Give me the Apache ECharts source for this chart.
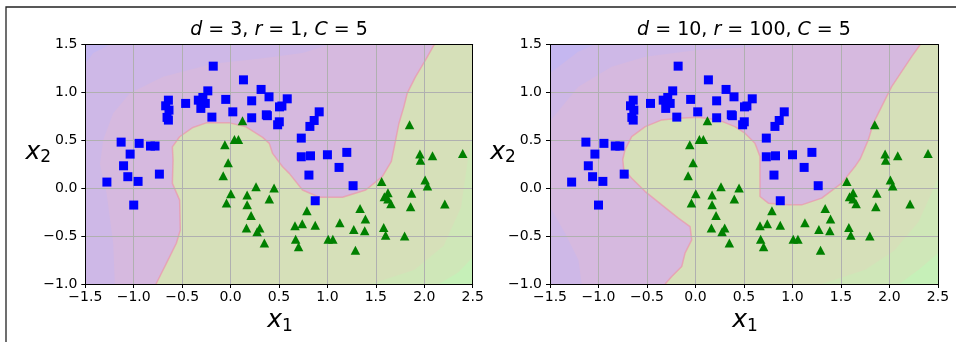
<!DOCTYPE html>
<html>
<head>
<meta charset="utf-8">
<script src="https://cdn.jsdelivr.net/npm/echarts@6/dist/echarts.min.js"></script>
<style>html,body{margin:0;padding:0;background:#fff}#c{width:956px;height:342px}</style>
</head>
<body>
<div id="c"></div>
<script>
// ---- data ----
const xRange = [-1.5, 2.5];
const yRange = [-1.0, 1.5];
const tickStep = 0.5;
const titles = [['d', ' = 3, ', 'r', ' = 1, ', 'C', ' = 5'], ['d', ' = 10, ', 'r', ' = 100, ', 'C', ' = 5']];

const class0 = [[-1.277,0.064],[-1.130,0.481],[-0.944,0.468],[-1.037,0.356],[-1.105,0.234],[-1.061,0.120],[-0.955,0.071],[-1.0,-0.176],[-0.827,0.440],[-0.780,0.440],[-0.735,0.147],
[-0.642,0.919],[-0.670,0.860],[-0.636,0.815],[-0.656,0.739],[-0.642,0.711],[-0.464,0.885],
[-0.333,0.919],[-0.286,0.947],[-0.261,0.885],[-0.307,0.833],[-0.235,1.016],[-0.179,1.274],[-0.193,0.742],[-0.050,0.927],[0.023,0.797],[0.133,1.131],[0.218,0.912],[0.218,0.735],[0.315,1.031],[0.397,0.954],[0.369,0.766],[0.38,0.757],[0.505,0.849],[0.53,0.858],[0.486,0.662],[0.503,0.693],[0.585,0.933],
[0.915,0.797],[0.863,0.707],[0.819,0.645],[0.730,0.523],[0.730,0.328],[0.825,0.338],[1.000,0.349],[1.200,0.374],[1.120,0.217],[0.809,0.137],[1.265,0.026],[0.874,-0.131]];

const class1 = [[0.123,0.704],[0.040,0.509],[0.081,0.509],[-0.059,0.453],[-0.025,0.266],[-0.076,0.130],[0.003,-0.058],[-0.042,-0.155],[0.171,-0.072],[0.171,-0.172],
[0.263,0.015],[0.212,-0.284],[0.164,-0.416],[0.301,-0.416],[0.274,-0.454],[0.349,-0.572],[0.449,0.001],[0.400,-0.113],[0.665,-0.392],[0.740,-0.371],
[0.788,-0.235],[0.874,-0.388],[0.672,-0.534],[0.702,-0.611],[1.008,-0.534],[1.056,-0.534],[1.128,-0.360],[1.272,-0.430],[1.289,-0.649],[1.337,-0.211],
[1.392,-0.322],[1.385,-0.444],[1.560,0.071],[1.588,-0.089],[1.625,-0.047],[1.625,-0.113],[1.656,-0.162],[1.581,-0.409],[1.601,-0.492],[1.797,-0.499],
[1.848,0.662],[1.955,0.356],[1.961,0.293],[2.085,0.339],[1.869,-0.054],[1.859,-0.193],[2.009,0.085],[2.033,0.022],[2.212,-0.166],[2.397,0.363]];

// decision boundaries (from bottom edge to top edge)
const boundaryA = [[-0.77,-1.0],[-0.663,-0.784],[-0.56,-0.575],[-0.519,-0.437],[-0.526,-0.124],[-0.601,0.05],[-0.594,0.294],[-0.601,0.432],[-0.526,0.537],[-0.389,0.634],[-0.251,0.682],[-0.011,0.682],[0.16,0.641],[0.331,0.53],[0.40,0.468],[0.434,0.363],[0.537,0.224],[0.606,0.155],[0.743,-0.019],[0.915,-0.095],[1.155,-0.095],[1.395,-0.019],[1.566,0.12],[1.66,0.28],[1.704,0.502],[1.738,0.676],[1.789,0.849],[1.823,0.989],[1.909,1.162],[2.012,1.336],[2.098,1.49],[2.11,1.5]];
const boundaryB = [[-0.313,-1.0],[-0.245,-0.921],[-0.142,-0.817],[-0.108,-0.677],[-0.039,-0.539],[-0.056,-0.400],[-0.177,-0.313],[-0.348,-0.174],[-0.518,-0.035],[-0.658,0.104],[-0.74,0.20],[-0.75,0.30],[-0.727,0.40],[-0.658,0.539],[-0.518,0.643],[-0.348,0.713],[-0.177,0.730],[0.029,0.741],[0.235,0.713],[0.406,0.643],[0.510,0.574],[0.613,0.47],[0.665,0.33],[0.665,0.191],[0.665,-0.087],[0.751,-0.156],[0.957,-0.174],[1.095,-0.174],[1.301,-0.104],[1.507,0.053],[1.644,0.226],[1.70,0.31],[1.781,0.504],[1.833,0.678],[1.902,0.817],[1.970,0.956],[2.022,1.06],[2.125,1.216],[2.228,1.373],[2.314,1.495],[2.32,1.5]];

// faint decision-function contour bands
const bandsA0 = [[[-1.5,-1.0],[-1.195,-1.0],[-1.212,-0.575],[-1.28,-0.052],[-1.348,0.25],[-1.315,0.502],[-1.212,0.783],[-1.04,0.991],[-0.697,1.164],[-0.183,1.30],[0.331,1.356],[0.743,1.41],[1.02,1.5],[-1.5,1.5]]];
const cornerA0 = [[[-1.5,1.5],[-1.5,1.30],[-1.418,1.41],[-1.246,1.5]]];
const bandsA1 = [[[1.45,-1.0],[1.9,-0.85],[2.2,-0.6],[2.38,-0.2],[2.45,0.3],[2.5,0.6],[2.5,-1.0]]];
const cornerA1 = [[[2.15,-1.0],[2.35,-0.88],[2.5,-0.72],[2.5,-1.0]]];
const bandsB0 = [[[-1.5,-1.0],[-1.173,-1.0],[-1.208,-0.747],[-1.345,-0.469],[-1.483,-0.226],[-1.5,-0.2]],
                 [[-1.5,0.70],[-1.208,1.06],[-0.864,1.268],[-0.518,1.373],[0.0,1.44],[0.5,1.47],[0.9,1.5],[-1.5,1.5]]];
const cornerB0 = [[[-1.5,1.5],[-1.5,1.2],[-1.21,1.425],[-1.036,1.5]]];
const bandsB1 = [[[1.3,-1.0],[1.75,-0.85],[2.05,-0.65],[2.3,-0.35],[2.5,0.1],[2.5,-1.0]]];
const cornerB1 = [[[2.1,-1.0],[2.3,-0.85],[2.5,-0.68],[2.5,-1.0]]];

// ---- styles ----
const FONT = 'DejaVu Sans';
const C_P0 = 'rgb(214,185,223)', C_P1 = 'rgb(206,184,231)', C_P2 = 'rgb(197,183,240)';
const C_G0 = 'rgb(214,224,185)', C_G1 = 'rgb(207,231,184)', C_G2 = 'rgb(198,240,184)';

const grids = [
  {left: 85.3, top: 44.5, width: 387.4, height: 239.5},
  {left: 550, top: 44.5, width: 388, height: 239.5}
];

const fmt = v => (v < 0 ? '\u2212' : '') + Math.abs(v).toFixed(1);

function polySeries(g, pts, color, z) {
  return {
    type: 'custom', xAxisIndex: g, yAxisIndex: g, z: z, silent: true, clip: true,
    data: [pts[0]],
    renderItem: (params, api) => ({
      type: 'polygon',
      shape: {points: pts.map(p => api.coord(p))},
      style: {fill: color}
    })
  };
}

const xAxes = [], yAxes = [], series = [];
grids.forEach((g, i) => {
  xAxes.push({
    type: 'value', gridIndex: i, min: xRange[0], max: xRange[1], interval: tickStep, z: 3,
    axisLine: {show: true, onZero: false, lineStyle: {color: '#000', width: 1}},
    axisTick: {show: true, inside: false, length: 4, lineStyle: {color: '#000'}},
    axisLabel: {formatter: fmt, color: '#000', fontSize: 14, fontFamily: FONT, margin: 6},
    splitLine: {show: true, lineStyle: {color: '#b0b0b0', width: 1}}
  });
  yAxes.push({
    type: 'value', gridIndex: i, min: yRange[0], max: yRange[1], interval: tickStep, z: 3,
    axisLine: {show: true, onZero: false, lineStyle: {color: '#000', width: 1}},
    axisTick: {show: true, inside: false, length: 4, lineStyle: {color: '#000'}},
    axisLabel: {formatter: fmt, color: '#000', fontSize: 14, fontFamily: FONT, margin: 8},
    splitLine: {show: true, lineStyle: {color: '#b0b0b0', width: 1}}
  });
});
grids.forEach((g, i) => {
  xAxes.push({type: 'value', gridIndex: i, position: 'top', min: xRange[0], max: xRange[1], z: 3,
    axisLine: {show: true, onZero: false, lineStyle: {color: '#000', width: 1}},
    axisTick: {show: false}, axisLabel: {show: false}, splitLine: {show: false}});
  yAxes.push({type: 'value', gridIndex: i, position: 'right', min: yRange[0], max: yRange[1], z: 3,
    axisLine: {show: true, onZero: false, lineStyle: {color: '#000', width: 1}},
    axisTick: {show: false}, axisLabel: {show: false}, splitLine: {show: false}});
});

const fullRect = [[xRange[0], yRange[0]], [xRange[1], yRange[0]], [xRange[1], yRange[1]], [xRange[0], yRange[1]]];
const panels = [
  {b: boundaryA, p1: bandsA0, p2: cornerA0, g1: bandsA1, g2: cornerA1},
  {b: boundaryB, p1: bandsB0, p2: cornerB0, g1: bandsB1, g2: cornerB1}
];
panels.forEach((P, i) => {
  series.push(polySeries(i, fullRect, C_P0, 1));
  P.p1.forEach(poly => series.push(polySeries(i, poly, C_P1, 1)));
  P.p2.forEach(poly => series.push(polySeries(i, poly, C_P2, 1)));
  const greenPoly = P.b.concat([[xRange[1], yRange[1]], [xRange[1], yRange[0]]]);
  series.push(polySeries(i, greenPoly, C_G0, 1));
  P.g1.forEach(poly => series.push(polySeries(i, poly, C_G1, 1)));
  P.g2.forEach(poly => series.push(polySeries(i, poly, C_G2, 1)));
  series.push({type: 'line', xAxisIndex: i, yAxisIndex: i, data: P.b, showSymbol: false, silent: true, z: 2,
    lineStyle: {color: 'rgba(236,150,170,0.7)', width: 1.5}});
  series.push({type: 'scatter', xAxisIndex: i, yAxisIndex: i, data: class0, symbol: 'rect', symbolSize: 9, z: 5,
    itemStyle: {color: '#0000ff', opacity: 1}, silent: true});
  series.push({type: 'scatter', xAxisIndex: i, yAxisIndex: i, data: class1, symbol: 'triangle', symbolSize: [9.5, 9], z: 5,
    itemStyle: {color: '#008000', opacity: 1}, silent: true});
});

const rich = {i: {fontStyle: 'italic', fontSize: 19, fontFamily: FONT, fill: '#000'}, n: {fontSize: 19, fontFamily: FONT, fill: '#000'}};
const graphics = [
  {type: 'rect', shape: {x: 6, y: 7, width: 1000, height: 400}, style: {fill: 'none', stroke: '#222', lineWidth: 1.3}, z: 100}
];
grids.forEach((g, i) => {
  const cx = g.left + g.width / 2;
  const parts = titles[i];
  const txt = parts.map((s, k) => (k % 2 === 0 ? '{i|' + s + '}' : '{n|' + s + '}')).join('');
  graphics.push({type: 'text', x: cx, y: 30, style: {text: txt, rich: rich, align: 'center', verticalAlign: 'middle', font: '19px "DejaVu Sans"'}});
  // x1 label
  graphics.push({type: 'text', x: cx + 3, y: 320, style: {text: 'x', align: 'right', verticalAlign: 'middle', font: 'italic 25px "DejaVu Sans"', fill: '#000'}});
  graphics.push({type: 'text', x: cx + 3, y: 327, style: {text: '1', align: 'left', verticalAlign: 'middle', font: '17px "DejaVu Sans"', fill: '#000'}});
  // x2 label
  graphics.push({type: 'text', x: g.left - 45, y: 152, style: {text: 'x', align: 'right', verticalAlign: 'middle', font: 'italic 25px "DejaVu Sans"', fill: '#000'}});
  graphics.push({type: 'text', x: g.left - 45, y: 158, style: {text: '2', align: 'left', verticalAlign: 'middle', font: '17px "DejaVu Sans"', fill: '#000'}});
});

const chart = echarts.init(document.getElementById('c'), null, {renderer: 'canvas'});
chart.setOption({
  backgroundColor: '#fff',
  animation: false,
  grid: grids,
  xAxis: xAxes,
  yAxis: yAxes,
  series: series,
  graphic: graphics
});
</script>
</body>
</html>
